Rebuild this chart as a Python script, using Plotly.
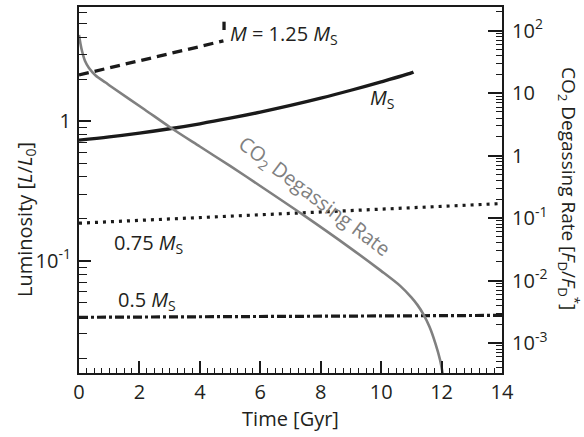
import plotly.graph_objects as go

# ---- data ----
time_125 = [0, 1, 2, 3, 4, 4.78]
lum_125 = [2.14, 2.40, 2.70, 3.04, 3.42, 3.76]
time_125_end = [4.8, 4.8]
lum_125_end = [4.49, 5.15]

time_100 = [0, 1, 2, 3, 4, 5, 6, 7, 8, 9, 10, 11, 11.07]
lum_100 = [0.731, 0.771, 0.821, 0.882, 0.957, 1.049, 1.160, 1.295, 1.460, 1.663, 1.910, 2.216, 2.25]

time_075 = [0, 2, 4, 6, 8, 10, 12, 14]
lum_075 = [0.186, 0.195, 0.204, 0.213, 0.223, 0.234, 0.245, 0.257]

time_050 = [0, 7, 14]
lum_050 = [0.0394, 0.0400, 0.0407]

time_co2 = [0, 0.05, 0.1, 0.2, 0.33, 0.55, 0.88, 1.06, 2.17, 3.0, 4.0, 5.0, 6.0, 7.42,
            8.97, 10.0, 10.63, 11.0, 11.2, 11.4, 11.6, 11.8, 11.95, 12.05]
co2_rate = [85.4, 61.3, 47.3, 32.7, 25.3, 19.2, 14.8, 12.8, 5.49, 2.88, 1.40, 0.684, 0.327,
            0.1125, 0.0334, 0.01429, 0.00823, 0.00538, 0.00408, 0.00288, 0.00182, 0.000971,
            0.000538, 0.0003]

x_ticks = [0, 2, 4, 6, 8, 10, 12, 14]
left_tickvals = [0.1, 1]
left_ticktext = ["10<sup>-1</sup>", "1"]
right_tickvals = [1e-3, 1e-2, 1e-1, 1, 10, 100]
right_ticktext = ["10<sup>-3</sup>", "10<sup>-2</sup>", "10<sup>-1</sup>", "1", "10", "10<sup>2</sup>"]

left_minor = [m * d for d in [0.01, 0.1, 1] for m in range(2, 10)]
right_minor = [m * d for d in [1e-4, 1e-3, 1e-2, 1e-1, 1, 10, 100] for m in range(2, 10)]

FONT = "Open Sans"
TXT = "#231f20"
BLACK = "#1a1a1a"
GRAY = "#808080"

fig = go.Figure()
fig.add_trace(go.Scatter(x=time_125, y=lum_125, mode="lines",
                         line=dict(color=BLACK, width=3.3, dash="10px,6px")))
fig.add_trace(go.Scatter(x=time_125_end, y=lum_125_end, mode="lines",
                         line=dict(color=BLACK, width=3.3)))
fig.add_trace(go.Scatter(x=time_100, y=lum_100, mode="lines",
                         line=dict(color=BLACK, width=3.3, shape="spline")))
fig.add_trace(go.Scatter(x=time_075, y=lum_075, mode="lines",
                         line=dict(color=BLACK, width=3.2, dash="3px,5px")))
fig.add_trace(go.Scatter(x=time_050, y=lum_050, mode="lines",
                         line=dict(color=BLACK, width=3.2, dash="9px,3px,3px,3px")))
fig.add_trace(go.Scatter(x=time_co2, y=co2_rate, mode="lines", yaxis="y2",
                         line=dict(color=GRAY, width=2.6, shape="spline", smoothing=0.8)))

W, H = 584, 437
L, R, T, B = 79, 502, 7, 373


def px(xp):
    return (xp - L) / (R - L)


def py(yp):
    return (B - yp) / (B - T)


tickfont = dict(family=FONT, size=20, color=TXT)
fig.update_layout(
    width=W, height=H,
    margin=dict(l=L, r=W - R, t=T, b=H - B, autoexpand=False),
    paper_bgcolor="white", plot_bgcolor="white",
    showlegend=False,
    font=dict(family=FONT, size=20, color=TXT),
    xaxis=dict(range=[0, 14], tickvals=x_ticks, ticks="inside", ticklen=12, tickwidth=1.6,
               tickcolor=BLACK, showline=True, linecolor=BLACK, linewidth=2, mirror=True,
               showgrid=False, zeroline=False, tickfont=tickfont,
               minor=dict(dtick=0.25, ticks="inside", ticklen=5, tickwidth=1.2, tickcolor=BLACK),
               title=dict(text="Time [Gyr]", font=dict(family=FONT, size=20, color=TXT), standoff=4)),
    yaxis=dict(type="log", range=[-1.803, 0.817], tickvals=left_tickvals, ticktext=left_ticktext,
               ticks="inside", ticklen=12, tickwidth=1.6, tickcolor=BLACK,
               showline=True, linecolor=BLACK, linewidth=2, showgrid=False, zeroline=False,
               tickfont=tickfont, ticklabelstandoff=2,
               minor=dict(tickvals=left_minor, ticks="inside", ticklen=8, tickwidth=1.4,
                          tickcolor=BLACK)),
    yaxis2=dict(type="log", range=[-3.48, 2.38], overlaying="y", side="right",
                tickvals=right_tickvals, ticktext=right_ticktext,
                ticks="inside", ticklen=14, tickwidth=1.6, tickcolor=BLACK,
                showline=True, linecolor=BLACK, linewidth=2, showgrid=False, zeroline=False,
                tickfont=tickfont, ticklabelstandoff=4,
                minor=dict(tickvals=right_minor, ticks="inside", ticklen=6, tickwidth=1.2,
                           tickcolor=BLACK)),
)

ann = [
    dict(text="Luminosity [<i>L</i>/<i>L</i><sub>0</sub>]", x=px(25), y=py(220), textangle=-90,
         font=dict(size=20)),
    dict(text="CO<sub>2</sub> Degassing Rate [<i>F</i><sub>D</sub>/<i>F</i><sub>D</sub><sup>*</sup>]",
         x=px(569), y=py(188), textangle=90, font=dict(size=19)),
    dict(text="<i>M</i> = 1.25 <i>M</i><sub>S</sub>", x=px(228), y=py(35), xanchor="left",
         font=dict(size=20)),
    dict(text="<i>M</i><sub>S</sub>", x=px(368), y=py(99), xanchor="left", font=dict(size=20)),
    dict(text="0.75 <i>M</i><sub>S</sub>", x=px(112), y=py(243), xanchor="left", font=dict(size=20)),
    dict(text="0.5 <i>M</i><sub>S</sub>", x=px(116), y=py(300), xanchor="left", font=dict(size=20)),
    dict(text="CO<sub>2</sub> Degassing Rate", x=px(314), y=py(196), textangle=37,
         font=dict(size=20, color=GRAY)),
]
for a in ann:
    a.update(xref="paper", yref="paper", showarrow=False)
    if "xanchor" not in a:
        a["xanchor"] = "center"
    a["yanchor"] = "middle"
    a["font"].setdefault("family", FONT)
    a["font"].setdefault("color", TXT)
fig.update_layout(annotations=ann)

fig.write_html("out.html", config={"displayModeBar": False},
               post_script="document.body.style.margin='0px';document.body.style.overflow='hidden';")
